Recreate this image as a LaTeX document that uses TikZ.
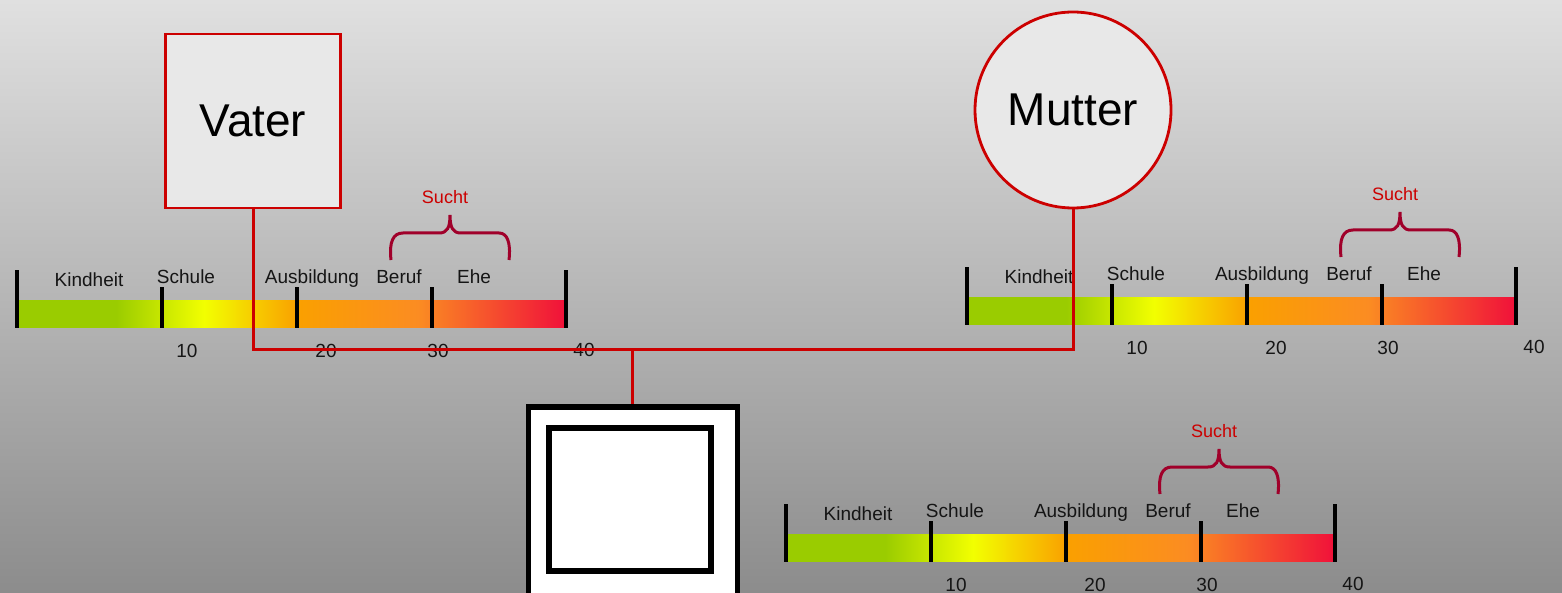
\documentclass[tikz,border=0pt]{standalone}
\usepackage{fontspec}
\setmainfont{Liberation Sans}
\definecolor{bgtop}{HTML}{E0E0E0}
\definecolor{bgbot}{HTML}{8C8C8C}
\definecolor{cgreen}{HTML}{9ACC00}
\definecolor{cyellow}{HTML}{F2FF00}
\definecolor{corange}{HTML}{FAA000}
\definecolor{corangeb}{HTML}{FB8C22}
\definecolor{cred}{HTML}{F0103A}
\definecolor{linered}{HTML}{CC0000}
\definecolor{bracered}{HTML}{A0002A}
\definecolor{boxfill}{HTML}{E8E8E8}
\definecolor{txt}{HTML}{151515}
\pgfdeclarehorizontalshading{lifebar}{100bp}{color(0bp)=(cgreen); color(25bp)=(cgreen); color(34bp)=(cgreen); color(42bp)=(cyellow); color(50.5bp)=(corange); color(61.5bp)=(corangeb); color(75bp)=(cred); color(100bp)=(cred)}
\tikzset{
  barnode/.style={draw=none, shading=lifebar, minimum width=274.5pt, minimum height=13.5pt, inner sep=0pt, anchor=north west},
  tick/.style={draw=black, line width=1.6pt},
  lbl/.style={text=txt, font=\fontsize{9.5}{11}\selectfont, inner sep=0pt, anchor=base},
  sucht/.style={text=linered, font=\fontsize{9}{11}\selectfont, inner sep=0pt},
  bracepath/.style={draw=bracered, line width=1.5pt},
  conn/.style={draw=linered, line width=1.5pt},
  parentbox/.style={draw=linered, fill=boxfill, line width=1.4pt, inner sep=0pt, font=\fontsize{23}{26}\selectfont},
  childbox/.style={draw=black, fill=white, line width=2.6pt, inner sep=0pt},
}
\newcommand\drawlifeline[3]{%
\begin{scope}[shift={(#2,#3)}]
  \node[barnode] (#1bar) at (0,0) {};
  \draw[tick] (0,-30) -- (0,28);
  \draw[tick] (549,-30) -- (549,28);
  \draw[tick] (145,-13) -- (145,28);
  \draw[tick] (280,-13) -- (280,28);
  \draw[tick] (415,-13) -- (415,28);
  \node[lbl] (#1kind) at (72,-14) {Kindheit};
  \node[lbl] (#1schule) at (169,-17) {Schule};
  \node[lbl] (#1ausb) at (295,-17) {Ausbildung};
  \node[lbl] (#1beruf) at (382,-17) {Beruf};
  \node[lbl] (#1ehe) at (457,-17) {Ehe};
  \node[lbl] (#1n10) at (170,57) {10};
  \node[lbl] (#1n20) at (309,57) {20};
  \node[lbl] (#1n30) at (421,57) {30};
  \node[lbl] (#1n40) at (567,56) {40};
  \draw[bracepath] (374,-40) .. controls (372,-58) and (376,-67) .. (386,-67)
     -- (422,-67) .. controls (430,-67) and (433,-72) .. (433,-85)
     .. controls (433,-72) and (436,-67) .. (444,-67)
     -- (482,-67) .. controls (490,-67) and (494,-58) .. (492,-40);
  \node[sucht] (#1sucht) at (428,-103) {Sucht};
\end{scope}}
\begin{document}
\begin{tikzpicture}[x=0.5pt,y=-0.5pt]
\useasboundingbox (0,0) rectangle (1562,593);
\clip (0,0) rectangle (1562,593);
\shade[top color=bgtop, bottom color=bgbot] (0,0) rectangle (1562,593);
% parents
\node[parentbox, rectangle, minimum width=87.5pt, minimum height=87pt] (vater) at (253,121) {Vater};
\node[parentbox, circle, minimum size=98pt] (mutter) at (1073,110) {Mutter};
% timelines
\drawlifeline{v}{17}{300}
\drawlifeline{m}{967}{297}
\drawlifeline{k}{786}{534}
% child
\node[childbox, minimum width=104.5pt, minimum height=96.5pt] (child) at (633,503.5) {};
\node[childbox, minimum width=81pt, minimum height=71.5pt] (childin) at (630,499.5) {};
% connectors
\coordinate (marriage) at (632,349);
\draw[conn] (vater.south) |- (marriage) -| (mutter.south);
\draw[conn] (marriage) -- (marriage |- child.north);
\end{tikzpicture}
\end{document}
